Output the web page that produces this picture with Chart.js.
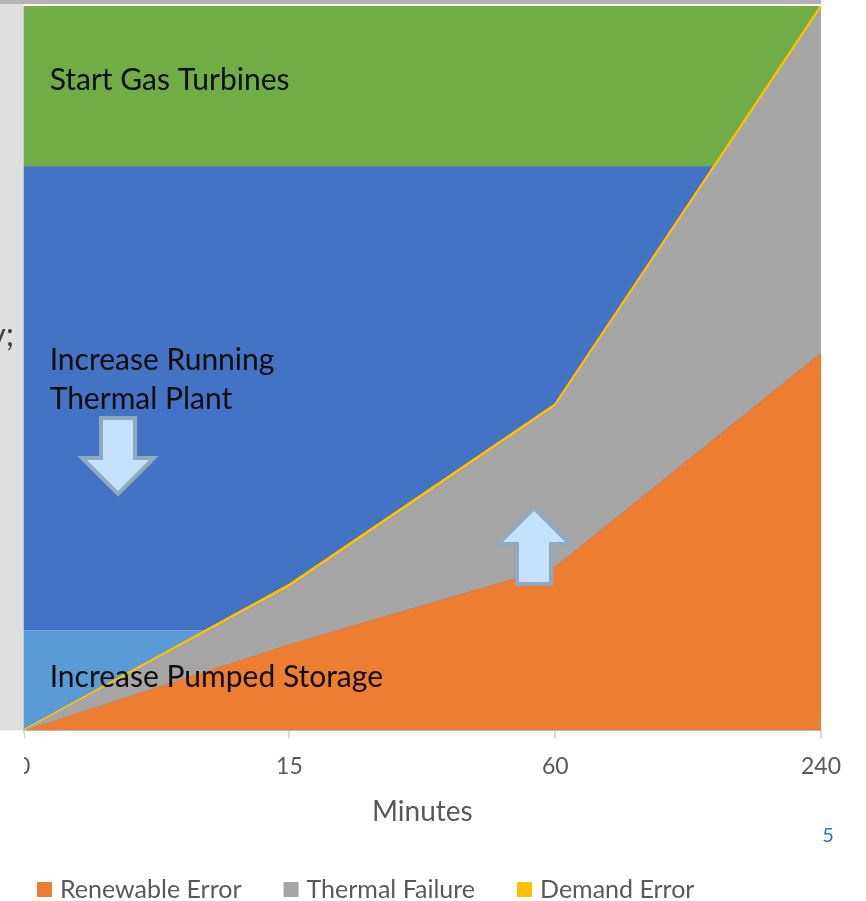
<!DOCTYPE html>
<html>
<head>
<meta charset="utf-8">
<script src="https://cdn.jsdelivr.net/npm/chart.js@4.4.1/dist/chart.umd.min.js"></script>
<style>
  html, body { margin: 0; padding: 0; background: #fff; }
  canvas { display: block; }
</style>
</head>
<body>
<canvas id="reserve-chart" width="866" height="901"></canvas>
<script>
const minutes = ["0", "15", "60", "240"];
const renewableError = [0, 11.9, 22.6, 52.1];
const thermalFailure = [0, 7.9, 22.1, 47.6];
const demandError = [0, 0.3, 0.3, 0.3];

const seriesNames = ["Renewable Error", "Thermal Failure", "Demand Error"];
const seriesColors = ["#ED7D31", "#A5A5A5", "#FFC000"];

// response bands behind the areas, bottom to top (y units)
const bandEdges = [0, 13.8, 77.9, 100];
const bandColors = ["#5B9BD5", "#4472C4", "#70AD47"];
const bandLabels = [["Increase Pumped Storage"], ["Increase Running", "Thermal Plant"], ["Start Gas Turbines"]];

const TEXT_GREY = "#595959";
const FONT = "Lato";

function drawArrow(ctx, cx, tipY, dir) {
  // dir 1 = points down, -1 = points up
  const shaftW = 17, headW = 36, headL = 36, len = 76;
  const tailY = tipY - dir * len;
  const neckY = tipY - dir * headL;
  ctx.beginPath();
  ctx.moveTo(cx - shaftW, tailY);
  ctx.lineTo(cx + shaftW, tailY);
  ctx.lineTo(cx + shaftW, neckY);
  ctx.lineTo(cx + headW, neckY);
  ctx.lineTo(cx, tipY);
  ctx.lineTo(cx - headW, neckY);
  ctx.lineTo(cx - shaftW, neckY);
  ctx.closePath();
  ctx.fillStyle = "#C5E2FA";
  ctx.fill();
  ctx.lineWidth = 4;
  ctx.strokeStyle = "#8FA9BE";
  ctx.stroke();
}

const slideBits = {
  id: "slideBits",
  beforeDraw(chart) {
    const { ctx, chartArea: a } = chart;
    ctx.save();
    ctx.fillStyle = "#fff";
    ctx.fillRect(0, 0, chart.width, chart.height);
    ctx.fillStyle = "#B3B3B3";
    ctx.fillRect(0, 0, a.right, 4);
    ctx.fillStyle = "#DEDEDE";
    ctx.fillRect(0, 4, a.left, a.bottom - 4);
    ctx.fillStyle = "#404040";
    ctx.font = "32px " + FONT;
    ctx.textAlign = "right";
    ctx.fillText("y;", 14, 346);
    ctx.restore();
  },
  beforeDatasetsDraw(chart) {
    const { ctx, chartArea: a, scales: { y } } = chart;
    ctx.save();
    bandColors.forEach((c, i) => {
      const top = y.getPixelForValue(bandEdges[i + 1]);
      const bot = y.getPixelForValue(bandEdges[i]);
      ctx.fillStyle = c;
      ctx.fillRect(a.left, top, a.right - a.left, bot - top);
    });
    ctx.restore();
  },
  afterDatasetsDraw(chart) {
    const { ctx, chartArea: a } = chart;
    ctx.save();
    ctx.fillStyle = "#0D0D0D";
    ctx.font = "30px " + FONT;
    ctx.textAlign = "left";
    ctx.textBaseline = "alphabetic";
    const x = a.left + 26;
    ctx.fillText(bandLabels[2][0], x, 90);
    ctx.fillText(bandLabels[1][0], x, 370);
    ctx.fillText(bandLabels[1][1], x, 409);
    ctx.fillText(bandLabels[0][0], x, 687);

    drawArrow(ctx, 118, 494, 1);
    drawArrow(ctx, 534, 508, -1);
    ctx.restore();
  },
  afterDraw(chart) {
    const { ctx, chartArea: a } = chart;
    ctx.save();
    // slide edge cuts the first tick label
    ctx.fillStyle = "#fff";
    ctx.fillRect(0, a.bottom + 3, 24, 60);

    // legend
    ctx.font = "25px " + FONT;
    ctx.textBaseline = "middle";
    let lx = 37;
    const ly = 889;
    chart.data.datasets.forEach((ds) => {
      ctx.fillStyle = ds.backgroundColor;
      ctx.fillRect(lx, ly - 7, 15, 15);
      ctx.fillStyle = TEXT_GREY;
      ctx.fillText(ds.label, lx + 23, ly + 1);
      lx += 23 + ctx.measureText(ds.label).width + 42;
    });

    // slide number
    ctx.fillStyle = "#1F78D1";
    ctx.font = "20px " + FONT;
    ctx.textAlign = "center";
    ctx.fillText("5", 828, 836);
    ctx.restore();
  }
};

const datasets = [renewableError, thermalFailure, demandError].map((vals, i) => ({
  label: seriesNames[i],
  data: vals,
  backgroundColor: seriesColors[i],
  borderColor: seriesColors[i],
  borderWidth: i === 2 ? 2.5 : 0,
  fill: i === 0 ? "origin" : "-1",
  pointRadius: 0,
  tension: 0
}));

const ctx = document.getElementById("reserve-chart").getContext("2d");
new Chart(ctx, {
  type: "line",
  data: { labels: minutes, datasets: datasets },
  options: {
    responsive: false,
    animation: false,
    layout: { padding: { left: 0, right: 45, top: 6, bottom: 72 } },
    plugins: { legend: { display: false }, tooltip: { enabled: false } },
    scales: {
      x: {
        offset: false,
        border: { color: "#D9D9D9", width: 2 },
        grid: { drawOnChartArea: false, color: "#D9D9D9", tickLength: 8, lineWidth: 2 },
        ticks: { color: TEXT_GREY, font: { family: FONT, size: 23, lineHeight: 1 }, padding: 17, maxRotation: 0 },
        title: { display: true, text: "Minutes", color: TEXT_GREY, font: { family: FONT, size: 28 }, padding: { top: 0, bottom: 0 } }
      },
      y: {
        stacked: true,
        min: 0,
        max: 100,
        grid: { display: false },
        border: { display: false },
        ticks: { display: false },
        afterFit: (s) => { s.width = 23; }
      }
    }
  },
  plugins: [slideBits]
});
</script>
</body>
</html>
